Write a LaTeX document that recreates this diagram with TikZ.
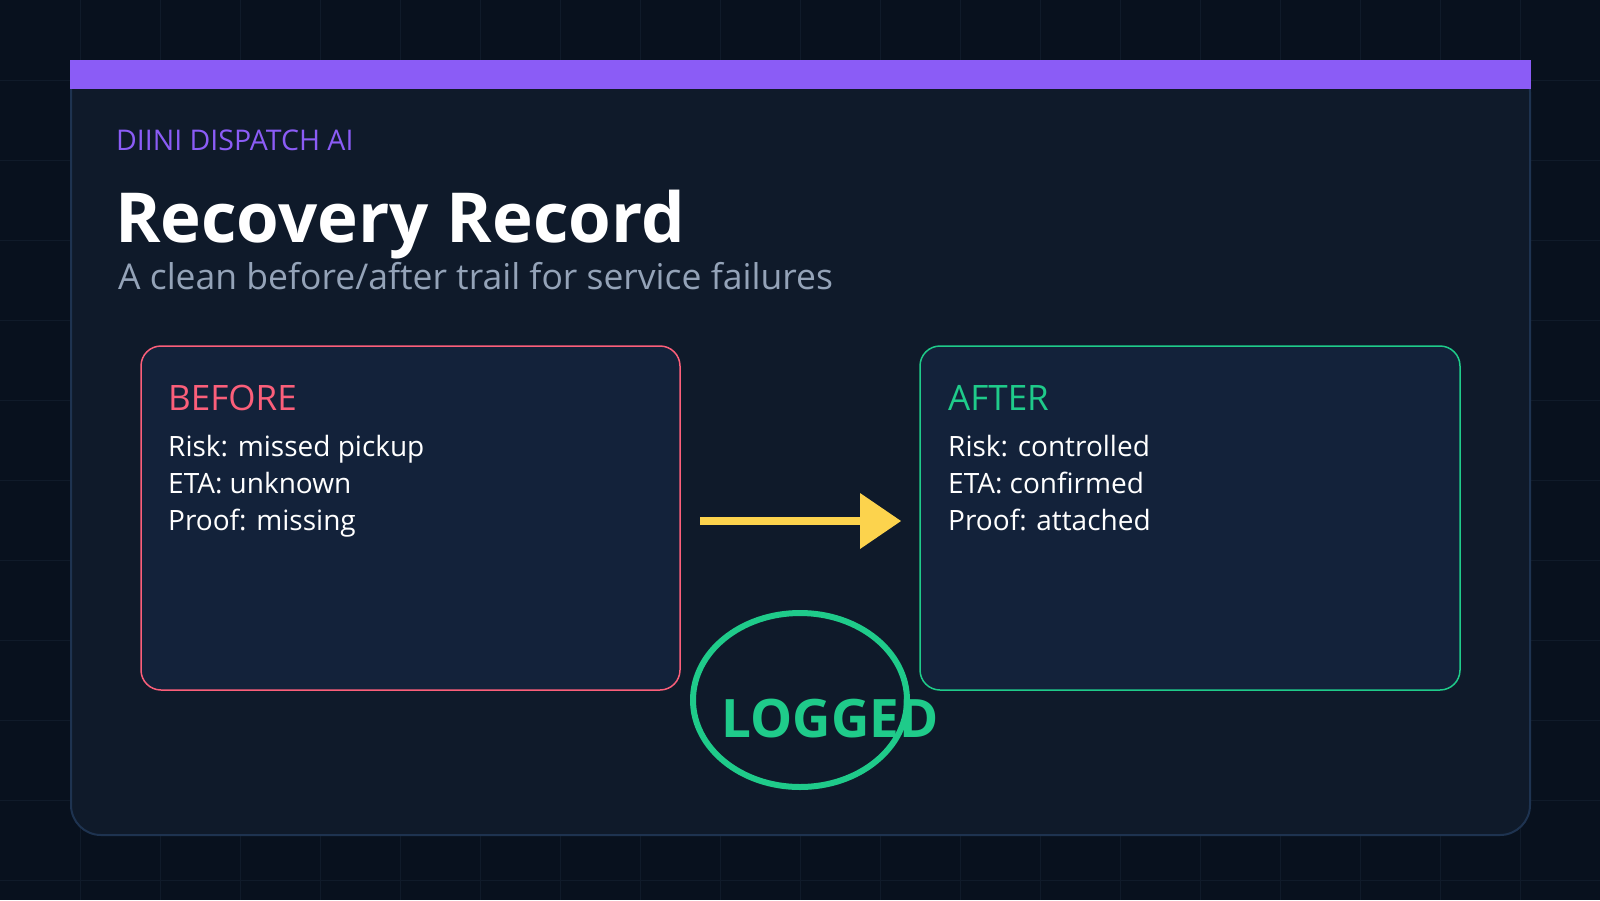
\documentclass[tikz,border=0pt]{standalone}
\usepackage{fontspec}
\setmainfont{Open Sans}
\begin{document}
\begin{tikzpicture}[x=1pt,y=-1pt,
  card/.style={rounded corners=20pt,fill=boxbg,line width=1.5pt},
  lbl/.style={anchor=base west,inner sep=0pt},
  body/.style={lbl,text=white,font=\fontsize{28}{34}\selectfont}]
\definecolor{bg}{HTML}{08111E}
\definecolor{gridc}{HTML}{101B2A}
\definecolor{cardbg}{HTML}{0F1A2A}
\definecolor{cardedge}{HTML}{1E3350}
\definecolor{boxbg}{HTML}{13223A}
\definecolor{purp}{HTML}{8B5CF6}
\definecolor{redc}{HTML}{FB5F7A}
\definecolor{grn}{HTML}{1FCB8A}
\definecolor{yel}{HTML}{FCD34D}
\definecolor{sub}{HTML}{94A3B8}
\useasboundingbox (0,0) rectangle (1600,900);
\fill[bg] (0,0) rectangle (1600,900);
\foreach \i in {80,160,...,1560} \draw[gridc,line width=1pt] (\i,0) -- (\i,900);
\foreach \i in {80,160,...,880} \draw[gridc,line width=1pt] (0,\i) -- (1600,\i);
\draw[rounded corners=30pt,fill=cardbg,draw=cardedge,line width=2pt] (71,62) rectangle (1530,835);
\fill[purp] (70,60) rectangle (1531,89);
\node[lbl,text=purp,font=\fontsize{28.5}{32}\selectfont] (brand) at (116,150) {DIINI DISPATCH AI};
\node[lbl,text=white,font=\bfseries\fontsize{69}{80}\selectfont] (title) at (115,242) {Recovery Record};
\node[lbl,text=sub,font=\fontsize{35.5}{42}\selectfont] (subt) at (118,289) {A clean before/after trail for service failures};
\draw[card,draw=redc] (141,346) rectangle (680,690);
\draw[card,draw=grn] (920,346) rectangle (1460,690);
\node[lbl,text=redc,font=\fontsize{35}{40}\selectfont] (bt) at (168,410) {BEFORE};
\node[body] (b1) at (168,456) {Risk: missed pickup};
\node[body] (b2) at (168,493) {ETA: unknown};
\node[body] (b3) at (168,530) {Proof: missing};
\node[lbl,text=grn,font=\fontsize{35}{40}\selectfont] (at) at (948,410) {AFTER};
\node[body] (a1) at (948,456) {Risk: controlled};
\node[body] (a2) at (948,493) {ETA: confirmed};
\node[body] (a3) at (948,530) {Proof: attached};
\coordinate (s) at (700,521);
\coordinate (e) at (862,521);
\draw[yel,line width=8pt] (s) -- (e);
\fill[yel] (860,493) -- (901,521) -- (860,549) -- cycle;
\draw[grn,line width=6pt] (800,700) ellipse [x radius=107,y radius=87];
\node[anchor=base,inner sep=0pt,text=grn,font=\bfseries\fontsize{53}{60}\selectfont] (logged) at (830,737) {LOGGED};
\end{tikzpicture}
\end{document}
